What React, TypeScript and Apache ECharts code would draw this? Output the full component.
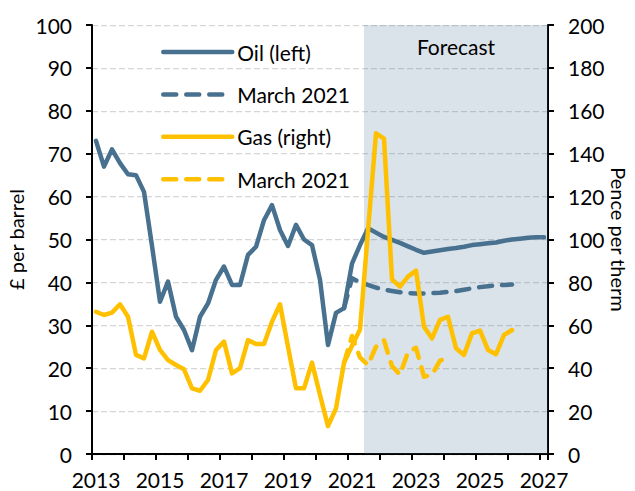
import React, { useEffect, useRef } from "react";
import * as echarts from "echarts";

// ---- Data ----
const years: number[] = [2013, 2014, 2015, 2016, 2017, 2018, 2019, 2020, 2021, 2022, 2023, 2024, 2025, 2026, 2027];
const quarterNames: string[] = ["Q1", "Q2", "Q3", "Q4"];
const lastCategory = "2027 Q1";

// Oil price, £ per barrel (left axis), quarterly from 2013 Q1
const oilLeft: number[] = [
  73.0, 67.0, 71.0, 67.8,
  65.2, 65.0, 61.1, 48.5,
  35.5, 40.2, 32.0, 28.9,
  24.2, 32.0, 35.1, 40.6,
  43.7, 39.4, 39.4, 46.4,
  48.3, 54.5, 58.0, 52.2,
  48.5, 53.4, 50.0, 48.7,
  40.6, 25.4, 32.9, 34.0,
  44.4, 48.7, 52.6, 51.6,
  50.6, 49.9, 49.2, 48.4,
  47.6, 46.9, 47.2, 47.5,
  47.8, 48.0, 48.3, 48.7,
  48.9, 49.1, 49.3, 49.7,
  50.0, 50.2, 50.4, 50.5,
  50.5,
];

// March 2021 oil forecast (left axis)
const oilMarchStart = "2020 Q4";
const oilMarch2021: number[] = [
  34.0,
  41.0, 40.0, 39.4, 38.8,
  38.3, 38.0, 37.7, 37.5,
  37.4, 37.4, 37.5, 37.6,
  37.8, 38.0, 38.3, 38.6,
  38.9, 39.1, 39.3, 39.4,
  39.5,
];

// Gas price, pence per therm (right axis), quarterly from 2013 Q1
const gasRight: number[] = [
  66.3, 64.8, 65.9, 69.8,
  64.0, 46.2, 44.6, 57.0,
  48.5, 43.8, 41.5, 39.5,
  30.6, 29.5, 34.5, 48.5,
  52.4, 37.6, 40.0, 53.1,
  51.3, 51.3, 61.7, 69.8,
  50.0, 30.6, 30.6, 42.6,
  27.5, 13.0, 21.3, 42.5,
  50.5, 58.0, 104.0, 149.5,
  147.0, 81.4, 78.0, 82.7,
  85.5, 59.3, 53.9, 62.5,
  64.0, 49.3, 46.2, 56.3,
  57.5, 48.5, 46.5, 55.5,
  57.8,
];

// March 2021 gas forecast (right axis)
const gasMarchStart = "2020 Q4";
const gasMarch2021: number[] = [
  42.5,
  55.0, 45.0, 41.5, 50.0,
  53.0, 41.0, 37.0, 47.5,
  49.5, 36.0, 37.0, 43.5,
  45.0,
];

const forecastStart = "2021 Q3";
const forecastLabel = "Forecast";

const leftAxis = { min: 0, max: 100, interval: 10, name: "£ per barrel" };
const rightAxis = { min: 0, max: 200, interval: 20, name: "Pence per therm" };

// ---- Derived ----
const allQuarters: string[] = [];
years.forEach((y) => quarterNames.forEach((q) => allQuarters.push(`${y} ${q}`)));
const categories: string[] = allQuarters.slice(0, allQuarters.indexOf(lastCategory) + 1);

function placeFrom(start: string, vals: number[]): (number | null)[] {
  const s = categories.indexOf(start);
  return categories.map((_, i) => {
    const k = i - s;
    return k >= 0 && k < vals.length ? vals[k] : null;
  });
}

const OIL = "#48718f";
const GAS = "#ffc000";
const FONT = "Lato";
const FS = 21;
const TXT = "#000000";

export default function App() {
  const ref = useRef<HTMLDivElement>(null);

  useEffect(() => {
    if (!ref.current) return;
    const chart = echarts.init(ref.current, null, { renderer: "svg" });

    const dash = [13, 10];
    const baseLine = (color: string, type: any) => ({
      color,
      width: 4.5,
      type,
      cap: "round",
      join: "round",
    });

    const option: any = {
      animation: false,
      backgroundColor: "#ffffff",
      textStyle: { fontFamily: FONT },
      grid: { left: 92, right: 87, top: 25, bottom: 37, containLabel: false, outerBoundsMode: "none" },
      legend: {
        orient: "vertical",
        left: 156,
        top: 36,
        itemWidth: 69,
        itemHeight: 14,
        itemGap: 20.4,
        data: ["Oil (left)", "Oil March 2021", "Gas (right)", "Gas March 2021"],
        formatter: (name: string) => (name.indexOf("March") >= 0 ? "March 2021" : name),
        textStyle: { fontSize: FS, fontFamily: FONT, color: TXT, lineHeight: 22 },
        itemStyle: { opacity: 0 },
        lineStyle: { width: 4.5 },
        selectedMode: false,
      },
      xAxis: {
        type: "category",
        data: categories,
        boundaryGap: true,
        axisLine: { lineStyle: { color: TXT, width: 2 } },
        axisTick: { show: true, interval: 3, length: 6, lineStyle: { color: TXT, width: 2 } },
        axisLabel: {
          interval: 7,
          formatter: (v: string) => v.slice(0, 4),
          margin: 15,
          color: TXT,
          fontSize: FS,
          fontFamily: FONT,
        },
        splitLine: { show: false },
      },
      yAxis: [
        {
          type: "value",
          position: "left",
          min: leftAxis.min,
          max: leftAxis.max,
          interval: leftAxis.interval,
          name: leftAxis.name,
          nameLocation: "middle",
          nameGap: 66,
          nameMoveOverlap: false,
          nameTextStyle: { fontSize: 20, fontFamily: FONT, color: TXT },
          axisLine: { show: true, lineStyle: { color: TXT, width: 2 } },
          axisTick: { show: true, length: 6, lineStyle: { color: TXT, width: 2 } },
          axisLabel: { margin: 20, color: TXT, fontSize: FS, fontFamily: FONT },
          splitLine: { show: true, lineStyle: { color: "#d6d6d6", width: 1.25, type: [6, 3] } },
        },
        {
          type: "value",
          position: "right",
          min: rightAxis.min,
          max: rightAxis.max,
          interval: rightAxis.interval,
          name: rightAxis.name,
          nameLocation: "middle",
          nameRotate: -90,
          nameGap: 61,
          nameMoveOverlap: false,
          nameTextStyle: { fontSize: 20, fontFamily: FONT, color: TXT },
          axisLine: { show: true, lineStyle: { color: TXT, width: 2 } },
          axisTick: { show: true, length: 6, lineStyle: { color: TXT, width: 2 } },
          axisLabel: { margin: 20, color: TXT, fontSize: FS, fontFamily: FONT },
          splitLine: { show: false },
        },
      ],
      series: [
        {
          name: "Forecast shading",
          type: "custom",
          xAxisIndex: 0,
          yAxisIndex: 0,
          silent: true,
          z: 1,
          data: [[categories.indexOf(forecastStart), categories.length - 1]],
          renderItem: (params: any, api: any) => {
            const s = api.value(0);
            const e = api.value(1);
            const band = api.size([1, 0])[0];
            const p0 = api.coord([s, leftAxis.max]);
            const p1 = api.coord([e, leftAxis.min]);
            const x0 = p0[0] - band / 2;
            const x1 = p1[0] + band / 2;
            return {
              type: "group",
              children: [
                {
                  type: "rect",
                  shape: { x: x0, y: p0[1], width: x1 - x0, height: p1[1] - p0[1] },
                  style: { fill: "rgba(70,110,150,0.2)" },
                },
                {
                  type: "text",
                  x: (x0 + x1) / 2,
                  y: p0[1] + 21,
                  style: {
                    text: forecastLabel,
                    fill: TXT,
                    fontSize: FS,
                    fontFamily: FONT,
                    align: "center",
                    verticalAlign: "middle",
                  },
                },
              ],
            };
          },
        },
        {
          name: "Oil (left)",
          type: "line",
          yAxisIndex: 0,
          data: oilLeft,
          symbol: "none",
          z: 3,
          itemStyle: { color: OIL },
          lineStyle: baseLine(OIL, "solid"),
        },
        {
          name: "Oil March 2021",
          type: "line",
          yAxisIndex: 0,
          data: placeFrom(oilMarchStart, oilMarch2021),
          symbol: "none",
          z: 3,
          itemStyle: { color: OIL },
          lineStyle: baseLine(OIL, dash),
        },
        {
          name: "Gas (right)",
          type: "line",
          yAxisIndex: 1,
          data: gasRight,
          symbol: "none",
          z: 3,
          itemStyle: { color: GAS },
          lineStyle: baseLine(GAS, "solid"),
        },
        {
          name: "Gas March 2021",
          type: "line",
          yAxisIndex: 1,
          data: placeFrom(gasMarchStart, gasMarch2021),
          symbol: "none",
          z: 3,
          itemStyle: { color: GAS },
          lineStyle: baseLine(GAS, dash),
        },
      ],
    };

    chart.setOption(option);
    return () => chart.dispose();
  }, []);

  return (
    <div
      ref={ref}
      style={{ position: "fixed", left: 0, top: 0, width: 635, height: 491, background: "#fff" }}
    />
  );
}
